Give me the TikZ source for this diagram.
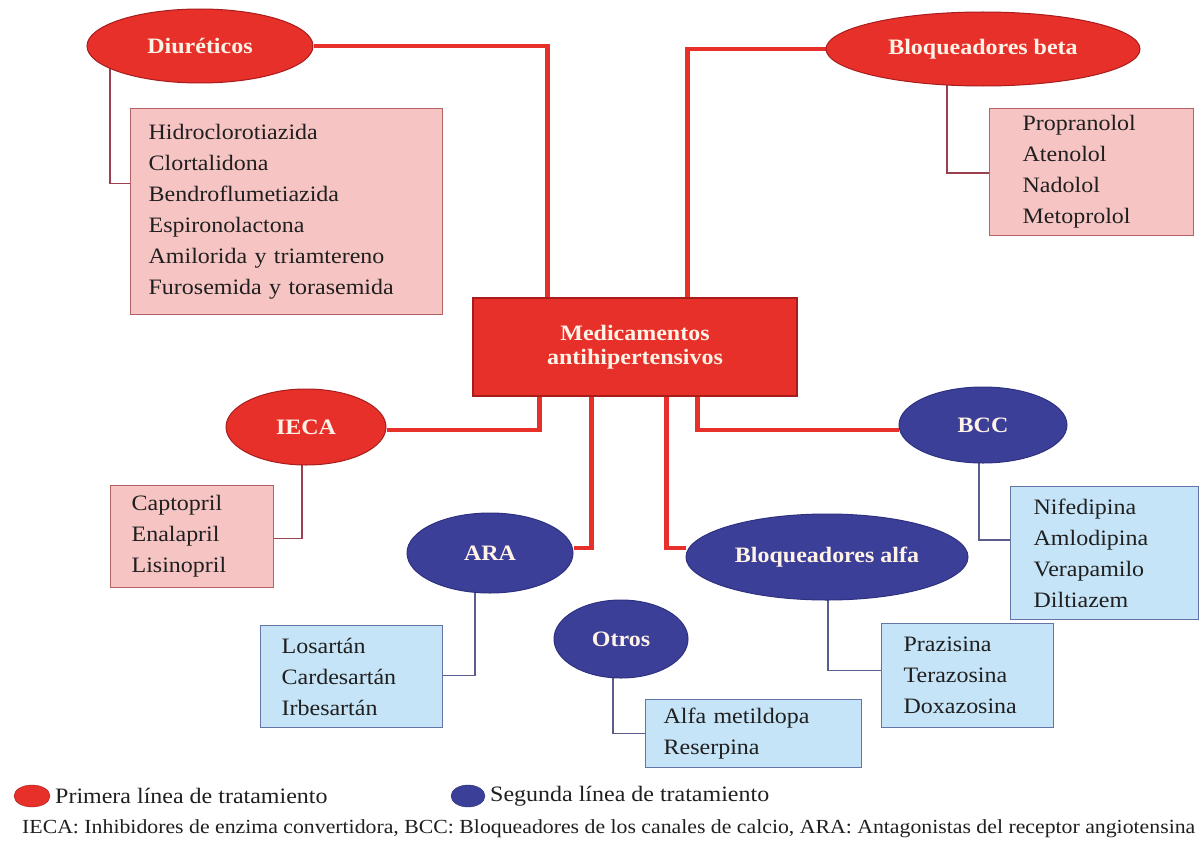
\documentclass[tikz,border=0pt]{standalone}
\usepackage{fontspec}
\setmainfont{Liberation Serif}[FakeStretch=1.09]
\usetikzlibrary{shapes.geometric,calc,backgrounds}
\definecolor{rd}{HTML}{E8302A}
\definecolor{rdk}{HTML}{A81C1C}
\definecolor{bl}{HTML}{3B3F98}
\definecolor{bldk}{HTML}{2E3180}
\definecolor{pk}{HTML}{F7C4C4}
\definecolor{pkdk}{HTML}{B26464}
\definecolor{lb}{HTML}{C6E4F7}
\definecolor{lbdk}{HTML}{6474A6}
\definecolor{cream}{HTML}{FFF2E6}
\definecolor{thinr}{HTML}{9A4050}
\definecolor{thinb}{HTML}{5A5C8E}
\newcommand{\labfont}{\fontsize{22}{24}\selectfont\bfseries}
\newcommand{\lstfont}{\fontsize{22}{31}\selectfont}
\begin{document}
\begin{tikzpicture}[x=1pt,y=-1pt,
  redell/.style={ellipse, draw=rdk, line width=1pt, fill=rd, inner sep=0pt, font=\labfont, text=cream},
  blueell/.style={ellipse, draw=bldk, line width=1pt, fill=bl, inner sep=0pt, font=\labfont, text=cream},
  pinkbox/.style={rectangle, draw=pkdk, line width=1.3pt, fill=pk, align=left, font=\lstfont, anchor=north west, inner ysep=0pt, text=black!88},
  bluebox/.style={rectangle, draw=lbdk, line width=1.3pt, fill=lb, align=left, font=\lstfont, anchor=north west, inner ysep=0pt, text=black!88},
  thick link/.style={draw=rd, line width=4.5pt},
  thin red/.style={draw=thinr, line width=1.5pt},
  thin blue/.style={draw=thinb, line width=1.5pt},
  legtext/.style={anchor=west, font=\fontsize{22}{24}\selectfont, inner sep=0pt, text=black!88}]
\useasboundingbox (0,0) rectangle (1201,843);

% central box
\node[rectangle, draw=rdk, line width=1.2pt, fill=rd, minimum width=324pt, minimum height=98pt, align=center, font=\labfont, text=cream] (med) at (635,347) {Medicamentos\\antihipertensivos};

% ellipses
\node[redell, minimum width=226pt, minimum height=74pt] (diu) at (200,46) {Diuréticos};
\node[redell, minimum width=314pt, minimum height=74pt] (beta) at (983,49) {Bloqueadores beta};
\node[redell, minimum width=160pt, minimum height=76pt] (ieca) at (306,427) {IECA};
\node[blueell, minimum width=166pt, minimum height=80pt] (ara) at (490,553) {ARA};
\node[blueell, minimum width=134pt, minimum height=78pt] (otros) at (621,639) {Otros};
\node[blueell, minimum width=282pt, minimum height=86pt] (alfa) at (827,557) {Bloqueadores alfa};
\node[blueell, minimum width=168pt, minimum height=76pt] (bcc) at (983,425) {BCC};

% lists
\node[pinkbox, minimum width=312pt, minimum height=206pt, inner xsep=18pt, text width=276pt] (diubox) at (130,108) {Hidroclorotiazida\\Clortalidona\\Bendroflumetiazida\\Espironolactona\\Amilorida y triamtereno\\Furosemida y torasemida};
\node[pinkbox, minimum width=204pt, minimum height=127pt, inner xsep=33pt, text width=138pt] (betabox) at (989,108) {Propranolol\\Atenolol\\Nadolol\\Metoprolol};
\node[pinkbox, minimum width=163pt, minimum height=102pt, inner xsep=21pt, text width=121pt] (iecabox) at (110,485) {Captopril\\Enalapril\\Lisinopril};
\node[bluebox, minimum width=182pt, minimum height=102pt, inner xsep=21pt, text width=140pt] (arabox) at (260,625) {Losartán\\Cardesartán\\Irbesartán};
\node[bluebox, minimum width=216pt, minimum height=68pt, inner xsep=18pt, text width=180pt] (otrosbox) at (645,699) {Alfa metildopa\\Reserpina};
\node[bluebox, minimum width=172pt, minimum height=104pt, inner xsep=22pt, text width=128pt] (alfabox) at (881,623) {Prazisina\\Terazosina\\Doxazosina};
\node[bluebox, minimum width=188pt, minimum height=133pt, inner xsep=23pt, text width=142pt] (bccbox) at (1010,486) {Nifedipina\\Amlodipina\\Verapamilo\\Diltiazem};

% connectors
\begin{scope}[on background layer]
\draw[thick link] (diu.east) -| ($(med.north west)+(75,0)$);
\draw[thick link] (beta.west) -| ($(med.north west)+(215,0)$);
\draw[thick link] ($(ieca.east)+(0,3)$) -| ($(med.south west)+(67,0)$);
\draw[thick link] ($(ara.east)+(0,-5)$) -| ($(med.south west)+(119,0)$);
\draw[thick link] ($(med.south west)+(160,0)$) -- ($(med.south west)+(160,0)$ |- otros.north);
\draw[thick link] ($(alfa.west)+(0,-9)$) -| ($(med.south west)+(194,0)$);
\draw[thick link] ($(bcc.west)+(0,5)$) -| ($(med.south west)+(225,0)$);

\draw[thin red] ($(diu.center)+(-90,0)$) |- ($(diubox.west)+(0,-28)$);
\draw[thin red] ($(beta.center)+(-36,0)$) |- ($(betabox.west)+(0,1)$);
\draw[thin red] ($(ieca.center)+(-4,0)$) |- ($(iecabox.east)+(0,2)$);
\draw[thin blue] ($(ara.center)+(-15,0)$) |- ($(arabox.east)+(0,-1)$);
\draw[thin blue] ($(otros.center)+(-8,0)$) |- (otrosbox.west);
\draw[thin blue] ($(alfa.center)+(1,0)$) |- ($(alfabox.west)+(0,-5)$);
\draw[thin blue] ($(bcc.center)+(-4,0)$) |- ($(bccbox.west)+(0,-13)$);
\end{scope}

% legend
\node[ellipse, fill=rd, draw=rdk, minimum width=36pt, minimum height=22pt, inner sep=0pt] (legr) at (32,796) {};
\node[legtext] (legrt) at (55,796) {Primera línea de tratamiento};
\node[ellipse, fill=bl, draw=bldk, minimum width=34pt, minimum height=22pt, inner sep=0pt] (legb) at (468,796) {};
\node[legtext] (legbt) at (490,796) {Segunda línea de tratamiento};
\node[anchor=west, inner sep=0pt, text=black!88] (foot) at (22,829) {\resizebox{1173pt}{!}{\fontsize{17}{19}\selectfont IECA: Inhibidores de enzima convertidora, BCC: Bloqueadores de los canales de calcio, ARA: Antagonistas del receptor angiotensina}};
\end{tikzpicture}
\end{document}
